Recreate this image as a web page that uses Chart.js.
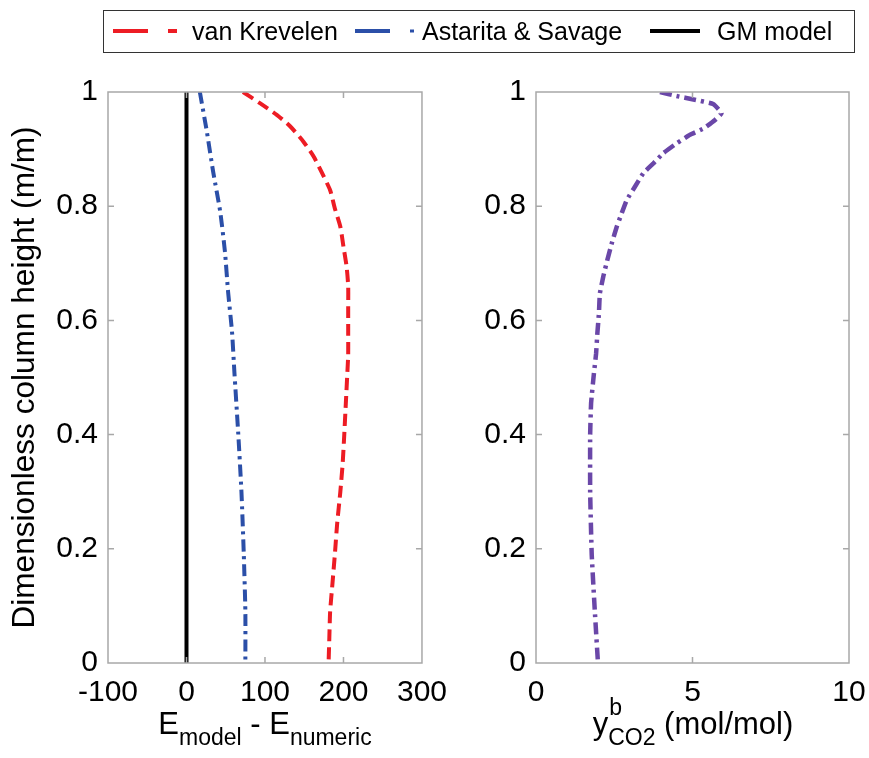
<!DOCTYPE html>
<html>
<head>
<meta charset="utf-8">
<script src="https://cdn.jsdelivr.net/npm/chart.js@4.4.1/dist/chart.umd.min.js"></script>
<style>
  body { margin: 0; background: #fff; font-family: "Liberation Sans", Arial, sans-serif; }
  #wrap { position: relative; width: 869px; height: 758px; overflow: hidden; }
  canvas { position: absolute; top: 0; }
  .lg { position: absolute; font-size: 25px; line-height: 30px; top: 16px; color: #000; white-space: nowrap; }
  .xt { position: absolute; width: 400px; text-align: center; font-size: 31px; line-height: 36px; top: 706px; white-space: nowrap; }
  .xt .sb { font-size: 23px; position: relative; top: 11px; }
  .stk { display: inline-block; position: relative; font-size: 23px; }
  .stk .sp { position: absolute; left: 1px; top: -19px; }
</style>
</head>
<body>
<div id="wrap">
  <canvas id="left" width="459" height="758" style="left:0"></canvas>
  <canvas id="right" width="428" height="758" style="left:450px"></canvas>

  <div style="position:absolute;left:103px;top:10px;width:752px;height:43px;border:1.5px solid #333;box-sizing:border-box"></div>
  <svg width="869" height="60" style="position:absolute;left:0;top:0">
    <line x1="113" y1="31" x2="148" y2="31" stroke="#ed1c24" stroke-width="4"/>
    <line x1="168" y1="31" x2="177" y2="31" stroke="#ed1c24" stroke-width="4"/>
    <line x1="355" y1="31" x2="390" y2="31" stroke="#2b4fa8" stroke-width="4"/>
    <line x1="410" y1="31" x2="414" y2="31" stroke="#2b4fa8" stroke-width="3"/>
    <line x1="650" y1="31" x2="700" y2="31" stroke="#000" stroke-width="4"/>
  </svg>
  <span class="lg" style="left:192px">van Krevelen</span>
  <span class="lg" style="left:422px">Astarita &amp; Savage</span>
  <span class="lg" style="left:717px">GM model</span>

  <div class="xt" style="left:65px">E<span class="sb">model</span> - E<span class="sb">numeric</span></div>
  <div class="xt" style="left:493px">y<span class="stk"><span class="sp">b</span><span class="sb">CO2</span></span> (mol/mol)</div>
</div>

<script>
// left panel: E_model - E_numeric vs dimensionless column height
const redHeights = [1, 0.98, 0.96, 0.94, 0.913, 0.887, 0.86, 0.828, 0.796, 0.764, 0.729, 0.694, 0.66, 0.62, 0.58, 0.54, 0.51, 0.455, 0.40, 0.35, 0.30, 0.245, 0.19, 0.14, 0.09, 0.045, 0];
const vanKrevelen = [72, 94, 115, 132, 149, 162, 172, 183, 189, 196, 200, 204, 206, 206, 206, 206, 205, 203, 201, 199, 196, 192, 189, 186, 183, 182, 181];

const blueHeights = [1, 0.93, 0.86, 0.79, 0.72, 0.65, 0.58, 0.51, 0.40, 0.30, 0.19, 0.09, 0];
const astarita = [17, 26, 34, 43, 49, 53, 58, 61, 66, 70, 73, 75, 75];

const gmHeights = [0, 1];
const gmModel = [0, 0];

// right panel: y^b CO2 vs height
const co2Heights = [1, 0.993, 0.987, 0.979, 0.963, 0.951, 0.936, 0.925, 0.91, 0.893, 0.875, 0.858, 0.834, 0.811, 0.788, 0.764, 0.735, 0.706, 0.677, 0.647, 0.612, 0.577, 0.542, 0.507, 0.455, 0.40, 0.30, 0.19, 0.09, 0];
const co2 = [3.96, 4.49, 5.03, 5.66, 5.93, 5.72, 5.35, 4.92, 4.49, 4.07, 3.75, 3.43, 3.16, 2.90, 2.74, 2.58, 2.42, 2.28, 2.15, 2.04, 2.01, 1.96, 1.92, 1.85, 1.76, 1.73, 1.73, 1.78, 1.88, 1.98];

const leftTicks = [-100, 0, 100, 200, 300];
const rightTicks = [0, 5, 10];
const heightTicks = [0, 0.2, 0.4, 0.6, 0.8, 1];

const pts = (hs, vs) => hs.map((h, i) => ({ x: vs[i], y: h }));

const FONT = { family: '"Liberation Sans", Arial, sans-serif', size: 30 };

const framePlugin = {
    id: "frame",
    afterDraw(chart) {
        const { ctx, chartArea: a, scales } = chart;
        ctx.save();
        ctx.strokeStyle = "#a8a8a8";
        ctx.lineWidth = 1.5;
        ctx.strokeRect(a.left, a.top, a.right - a.left, a.bottom - a.top);
        ctx.beginPath();
        scales.x.ticks.forEach(t => {
            const px = scales.x.getPixelForValue(t.value);
            if (px <= a.left + 1 || px >= a.right - 1) return;
            ctx.moveTo(px, a.bottom); ctx.lineTo(px, a.bottom - 6);
            ctx.moveTo(px, a.top); ctx.lineTo(px, a.top + 6);
        });
        scales.y.ticks.forEach(t => {
            const py = scales.y.getPixelForValue(t.value);
            if (py <= a.top + 1 || py >= a.bottom - 1) return;
            ctx.moveTo(a.left, py); ctx.lineTo(a.left + 6, py);
            ctx.moveTo(a.right, py); ctx.lineTo(a.right - 6, py);
        });
        ctx.stroke();
        ctx.restore();
    }
};

function makeChart(canvas, datasets, xMin, xMax, xTicks, yWidth, padRight, yTitle) {
    return new Chart(canvas, {
        type: "scatter",
        data: { datasets },
        options: {
            responsive: false,
            animation: false,
            layout: { padding: { top: 92, right: padRight, left: 0, bottom: 0 } },
            plugins: { legend: { display: false }, tooltip: { enabled: false } },
            elements: { point: { radius: 0 } },
            scales: {
                x: {
                    type: "linear",
                    min: xMin, max: xMax,
                    afterBuildTicks: s => { s.ticks = xTicks.map(v => ({ value: v })); },
                    afterFit: s => { s.height = 95; },
                    grid: { display: false, drawTicks: false },
                    border: { display: false },
                    ticks: { color: "#000", font: FONT, padding: 12, autoSkip: false, maxRotation: 0, callback: v => String(v) }
                },
                y: {
                    type: "linear",
                    min: 0, max: 1,
                    afterBuildTicks: s => { s.ticks = heightTicks.map(v => ({ value: v })); },
                    afterFit: s => { s.width = yWidth; },
                    grid: { display: false, drawTicks: false },
                    border: { display: false },
                    ticks: { color: "#000", font: FONT, padding: 10, autoSkip: false, callback: v => String(v) },
                    title: {
                        display: !!yTitle,
                        text: yTitle || "",
                        color: "#000",
                        font: { family: FONT.family, size: 31.6 },
                        padding: { top: 6, bottom: 0 }
                    }
                }
            }
        },
        plugins: [framePlugin]
    });
}

makeChart(document.getElementById("left"), [
    {
        label: "GM model",
        data: pts(gmHeights, gmModel),
        showLine: true,
        borderColor: "#000",
        borderWidth: 4
    },
    {
        label: "Astarita & Savage",
        data: pts(blueHeights, astarita),
        showLine: true,
        borderColor: "#2b4fa8",
        borderWidth: 4,
        borderDash: [12, 5, 3, 5],
        tension: 0.2
    },
    {
        label: "van Krevelen",
        data: pts(redHeights, vanKrevelen),
        showLine: true,
        borderColor: "#ed1c24",
        borderWidth: 4,
        borderDash: [12, 6],
        tension: 0.2
    }
], -100, 300, leftTicks, 108, 37, "Dimensionless column height (m/m)");

makeChart(document.getElementById("right"), [
    {
        label: "yCO2",
        data: pts(co2Heights, co2),
        showLine: true,
        borderColor: "#6a47a8",
        borderWidth: 4.5,
        borderDash: [12, 5, 3, 5],
        tension: 0.1
    }
], 0, 10, rightTicks, 86, 29, null);
</script>
</body>
</html>
